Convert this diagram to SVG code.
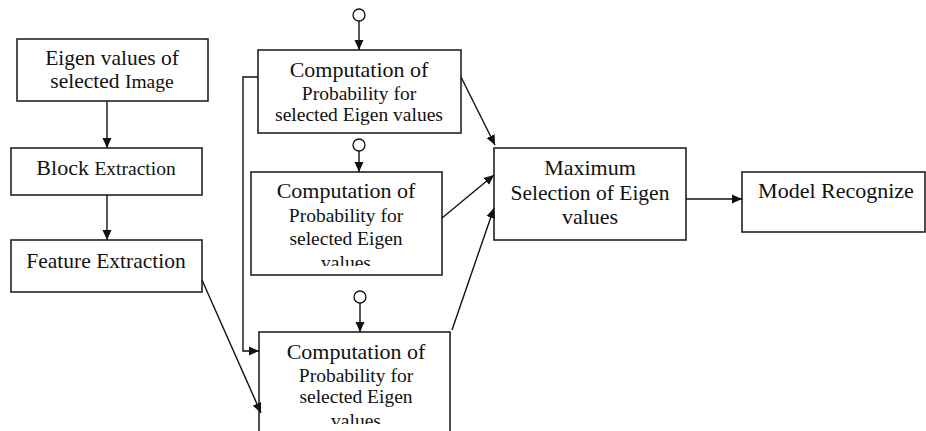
<svg xmlns="http://www.w3.org/2000/svg" width="926" height="431" viewBox="0 0 926 431">
<style>
.box{fill:#fff;stroke:#222;stroke-width:1.6}
.t{font-family:"Liberation Serif","Times New Roman",serif;fill:#111;text-anchor:middle}
.l{fill:none;stroke:#111;stroke-width:1.4}
.c{fill:#fff;stroke:#111;stroke-width:1.3}
</style>
<defs>
<marker id="ah" viewBox="0 0 10 10" refX="10" refY="5" markerWidth="10" markerHeight="10" markerUnits="userSpaceOnUse" orient="auto">
<path d="M0,0.5 L10,5 L0,9.5 Z" fill="#111"/>
</marker>
<clipPath id="clipB"><rect x="251" y="172" width="191" height="94"/></clipPath>
<clipPath id="clipC"><rect x="259" y="332" width="191" height="92"/></clipPath>
</defs>
<rect width="926" height="431" fill="#fff"/>

<g id="eigen">
<rect class="box" x="17" y="39" width="191" height="62"/>
<text class="t" x="112" y="65" font-size="21.5">Eigen values of</text>
<text class="t" x="112" y="88" font-size="21.5">selected <tspan font-size="19.5">Image</tspan></text>
</g>

<g id="block">
<rect class="box" x="11" y="148" width="191" height="47"/>
<text class="t" x="106" y="175" font-size="22">Block <tspan font-size="19.5">Extraction</tspan></text>
</g>

<g id="feature">
<rect class="box" x="11" y="240" width="191" height="52"/>
<text class="t" x="106" y="268" font-size="21.5">Feature Extraction</text>
</g>

<g id="compA">
<rect class="box" x="258" y="50" width="203" height="83"/>
<text class="t" x="359" y="77" font-size="22">Computation of</text>
<text class="t" x="359" y="100" font-size="19.5">Probability for</text>
<text class="t" x="359" y="121" font-size="19.5">selected Eigen values</text>
</g>

<g id="compB">
<rect class="box" x="251" y="172" width="191" height="103"/>
<text class="t" x="346" y="198" font-size="22">Computation of</text>
<text class="t" x="346" y="222" font-size="19.5">Probability for</text>
<text class="t" x="346" y="245" font-size="19.5">selected Eigen</text>
<text class="t" x="346" y="269" font-size="19.5" clip-path="url(#clipB)">values</text>
</g>

<g id="compC">
<rect class="box" x="259" y="332" width="191" height="120"/>
<text class="t" x="356" y="359" font-size="22">Computation of</text>
<text class="t" x="356" y="382" font-size="19.5">Probability for</text>
<text class="t" x="356" y="403" font-size="19.5">selected Eigen</text>
<text class="t" x="356" y="427" font-size="19.5" clip-path="url(#clipC)">values</text>
</g>

<g id="maxsel">
<rect class="box" x="494" y="148" width="192" height="92"/>
<text class="t" x="590" y="175" font-size="22">Maximum</text>
<text class="t" x="590" y="200" font-size="21.5">Selection of Eigen</text>
<text class="t" x="590" y="224" font-size="22">values</text>
</g>

<g id="model">
<rect class="box" x="742" y="172" width="183" height="60"/>
<text class="t" x="836" y="198" font-size="22">Model Recognize</text>
</g>

<g id="inputs">
<circle class="c" cx="359" cy="15" r="6"/>
<circle class="c" cx="359" cy="145" r="6"/>
<circle class="c" cx="360" cy="297" r="6"/>
</g>

<g id="connectors">
<line class="l" x1="107" y1="101" x2="107" y2="148" marker-end="url(#ah)"/>
<line class="l" x1="107" y1="195" x2="107" y2="240" marker-end="url(#ah)"/>
<line class="l" x1="359" y1="21" x2="359" y2="50" marker-end="url(#ah)"/>
<line class="l" x1="359" y1="151" x2="359" y2="172" marker-end="url(#ah)"/>
<line class="l" x1="360" y1="303" x2="360" y2="332" marker-end="url(#ah)"/>
<polyline class="l" points="258,77 243,77 243,351 259,351" marker-end="url(#ah)"/>
<line class="l" x1="202" y1="280" x2="261" y2="413" marker-end="url(#ah)"/>
<line class="l" x1="461" y1="77" x2="495" y2="145" marker-end="url(#ah)"/>
<line class="l" x1="442" y1="218" x2="494" y2="175" marker-end="url(#ah)"/>
<line class="l" x1="452" y1="330" x2="494" y2="208" marker-end="url(#ah)"/>
<line class="l" x1="686" y1="199" x2="742" y2="199" marker-end="url(#ah)"/>
</g>
</svg>
